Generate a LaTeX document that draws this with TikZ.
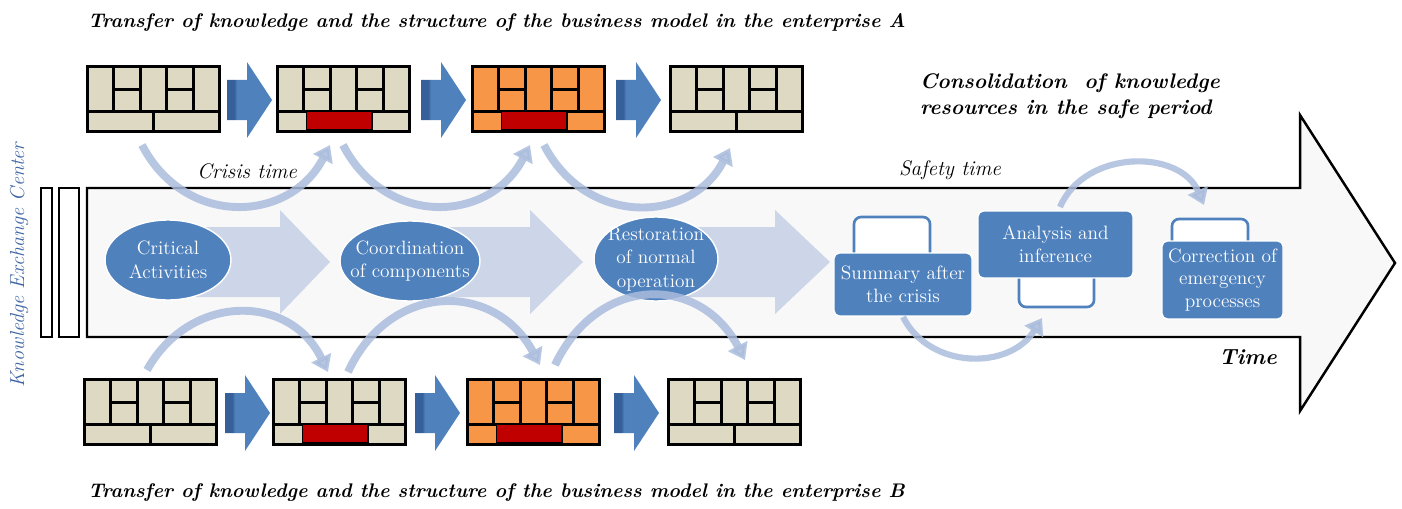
\documentclass[tikz,border=0pt]{standalone}
\usepackage{tikz}
\usetikzlibrary{calc,arrows.meta,shapes.geometric}

\definecolor{canvasTan}{HTML}{DDD9C3}
\definecolor{canvasOrange}{HTML}{F79646}
\definecolor{crisisRed}{HTML}{C00000}
\definecolor{officeBlue}{HTML}{4F81BD}
\definecolor{darkBlue}{HTML}{36609A}
\definecolor{paleBlue}{HTML}{CCD6E8}
\definecolor{curveBlue}{HTML}{AABCDC}
\definecolor{labelBlue}{HTML}{3D64A3}
\definecolor{arrowGray}{HTML}{F8F8F8}

% business model canvas: #1,#2 = top left corner, #3 = fill, #4 = crisis block (1/0)
\newcommand{\bmcanvas}[4]{%
  \begin{scope}[shift={(#1,#2)}]
    \fill[black] (0,0) rectangle (135,-68);
    \foreach \xa/\xb in {3/26.4, 55.8/79.2, 108.6/132}
      \fill[#3] (\xa,-3) rectangle (\xb,-45);
    \foreach \xa/\xb in {29.4/52.8, 82.2/105.6}{
      \fill[#3] (\xa,-3) rectangle (\xb,-23);
      \fill[#3] (\xa,-26) rectangle (\xb,-45);}
    \fill[#3] (3,-48) rectangle (65.5,-65);
    \fill[#3] (68.5,-48) rectangle (132,-65);
    \ifnum#4=1
      \filldraw[fill=crisisRed, draw=black, line width=1pt] (30.5,-46) rectangle (96,-65);
    \fi
  \end{scope}}

% blue block arrow: #1 = left x, #2 = centre y
\newcommand{\blockarrow}[2]{%
  \shade[shading=blockShading] (#1,#2+20) -- (#1+20,#2+20) -- (#1+20,#2+38) -- (#1+45,#2)
    -- (#1+20,#2-38) -- (#1+20,#2-20) -- (#1,#2-20) -- cycle;}

% pale chevron behind the stages: #1 = shaft start, #2 = head base, #3 = tip
\newcommand{\lightchevron}[3]{%
  \fill[paleBlue] (#1,281) -- (#2,281) -- (#2,298) -- (#3,246) -- (#2,194) -- (#2,211) -- (#1,211) -- cycle;}

\begin{document}
\begin{tikzpicture}[x=0.02cm, y=0.02cm, inner sep=0pt, outer sep=0pt,
  stage/.style={ellipse, fill=officeBlue, draw=white, line width=0.8pt},
  stagetext/.style={text=white, align=center, font=\fontsize{11}{13.5}\selectfont},
  stepbox/.style={rectangle, rounded corners=3pt, fill=officeBlue, draw=white, line width=0.8pt,
    text=white, align=center, font=\fontsize{11}{13}\selectfont},
  tab/.style={draw=officeBlue, fill=white, line width=1.5pt, rounded corners=4pt},
  flow/.style={draw=curveBlue, opacity=0.85, line width=4.5pt, -{Triangle[length=9pt, width=12pt]}},
  title/.style={anchor=west, font=\fontsize{11.2}{13}\selectfont\bfseries\itshape},
  period/.style={font=\fontsize{12}{14}\selectfont\itshape}]

  \pgfdeclarehorizontalshading{blockShading}{100bp}{
  color(0bp)=(darkBlue); color(25bp)=(darkBlue); color(33bp)=(darkBlue);
  color(36bp)=(officeBlue); color(100bp)=(officeBlue)}

  \useasboundingbox (0,0) rectangle (1402,508);

  % time arrow and the two bars
  \filldraw[fill=arrowGray, draw=black, line width=1.4pt] (87,320) -- (1300,320) -- (1300,393)
    -- (1395,245) -- (1300,97) -- (1300,171) -- (87,171) -- cycle;
  \filldraw[fill=white, draw=black, line width=1.4pt] (41,171) rectangle (52,320);
  \filldraw[fill=white, draw=black, line width=1.4pt] (59,171) rectangle (79,320);

  \lightchevron{170}{280}{330}
  \lightchevron{410}{530}{583}
  \lightchevron{656}{775}{830}

  \node[stage, minimum width=2.52cm, minimum height=1.6cm] (crit) at (168,248) {};
  \node[stagetext] (crit-t) at (crit) {Critical\\Activities};
  \node[stage, minimum width=2.8cm, minimum height=1.6cm] (coord) at (410,247) {};
  \node[stagetext] (coord-t) at (coord) {Coordination\\of components};
  \node[stage, minimum width=2.48cm, minimum height=1.68cm] (resto) at (656,249) {};
  \node[stagetext] (resto-t) at (resto) {Restoration\\of normal\\operation};

  \draw[tab] (854,240) rectangle (930,291);
  \draw[tab] (1019,201) rectangle (1094,250);
  \draw[tab] (1172,250) rectangle (1248,289);
  \node[stepbox, minimum width=2.76cm, minimum height=1.26cm] (summary) at (903,223.5) {Summary after\\the crisis};
  \node[stepbox, minimum width=3.1cm, minimum height=1.34cm] (analysis) at (1055.5,263.5) {Analysis and\\inference};
  \node[stepbox, minimum width=2.42cm, minimum height=1.56cm] (correct) at (1222.5,228) {Correction of\\emergency\\processes};

  % enterprise A (top) and B (bottom)
  \bmcanvas{86}{443}{canvasTan}{0}
  \bmcanvas{276}{443}{canvasTan}{1}
  \bmcanvas{471}{443}{canvasOrange}{1}
  \bmcanvas{669}{443}{canvasTan}{0}
  \bmcanvas{83}{130}{canvasTan}{0}
  \bmcanvas{272}{130}{canvasTan}{1}
  \bmcanvas{466}{130}{canvasOrange}{1}
  \bmcanvas{667}{130}{canvasTan}{0}

  \blockarrow{227}{408}
  \blockarrow{421}{408}
  \blockarrow{616}{408}
  \blockarrow{225}{95}
  \blockarrow{415}{95}
  \blockarrow{614}{95}

  % curved transfers
  \coordinate (a1s) at (142,363); \coordinate (a1e) at (330,363);
  \coordinate (a2s) at (343,363); \coordinate (a2e) at (530,363);
  \coordinate (a3s) at (544,363); \coordinate (a3e) at (730,360);
  \coordinate (b1s) at (147,138); \coordinate (b1e) at (328,136);
  \coordinate (b2s) at (348,136); \coordinate (b2e) at (540,143);
  \coordinate (b3s) at (555,143); \coordinate (b3e) at (745,148);
  \draw[flow] (a1s) .. controls (185,280) and (290,285) .. (a1e);
  \draw[flow] (a2s) .. controls (386,280) and (490,285) .. (a2e);
  \draw[flow] (a3s) .. controls (587,280) and (692,285) .. (a3e);
  \draw[flow] (b1s) .. controls (190,215) and (290,215) .. (b1e);
  \draw[flow] (b2s) .. controls (390,227) and (495,227) .. (b2e);
  \draw[flow] (b3s) .. controls (598,234) and (700,234) .. (b3e);
  \draw[flow, line width=3.5pt] (summary.south) ++(0,-1) .. controls (930,138) and (1010,138) .. (1042,190);
  \draw[flow, line width=3.5pt] (1060,301) .. controls (1085,359) and (1180,359) .. (1204,303);

  \node[title] (titleA) at (88,486) {Transfer of knowledge and the structure of the business model in the enterprise A};
  \node[title] (titleB) at (88,15) {Transfer of knowledge and the structure of the business model in the enterprise B};
  \node[title, align=left, font=\fontsize{12}{15}\selectfont\bfseries\itshape] (consol) at (920,412)
    {Consolidation\ \ of knowledge\\resources in the safe period};
  \node[period] (crisis) at (247,337) {Crisis time};
  \node[period] (safety) at (950,338) {Safety time};
  \node[font=\fontsize{12.5}{15}\selectfont\bfseries\itshape] (time) at (1248,151) {Time};
  \node[rotate=90, text=labelBlue, font=\fontsize{11.5}{14}\selectfont\itshape] (kec) at (19,243) {Knowledge Exchange Center};

\end{tikzpicture}
\end{document}
